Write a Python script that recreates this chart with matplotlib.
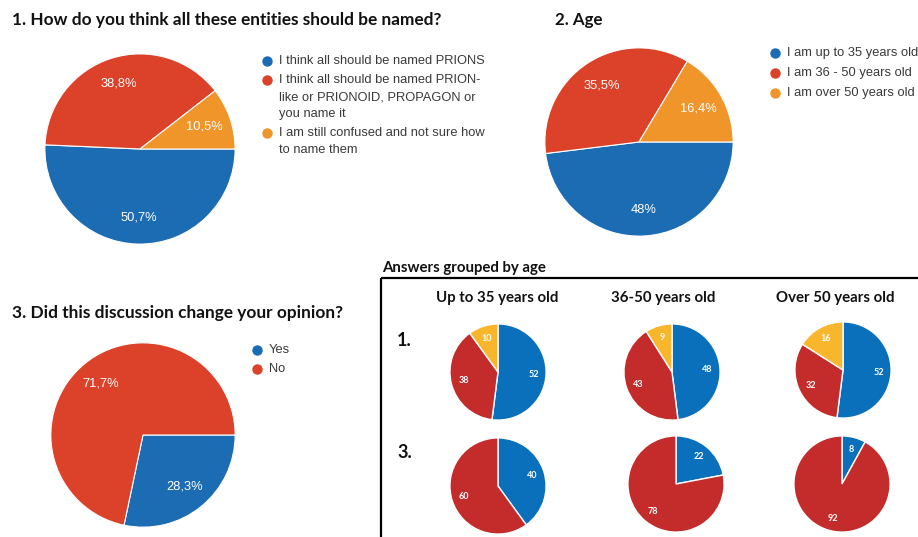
import matplotlib
matplotlib.use("Agg")
import matplotlib.pyplot as plt

W, H = 918, 537

# --- data ---
q1_labels = ["I think all should be named PRIONS",
             "I think all should be named PRION-\nlike or PRIONOID, PROPAGON or\nyou name it",
             "I am still confused and not sure how\nto name them"]
q1_values = [50.7, 38.8, 10.5]

age_labels = ["I am up to 35 years old", "I am 36 - 50 years old", "I am over 50 years old"]
age_values = [48.0, 35.5, 16.4]

q3_labels = ["Yes", "No"]
q3_values = [28.3, 71.7]

groups = ["Up to 35 years old", "36-50 years old", "Over 50 years old"]
q1_by_age = [[52, 38, 10], [48, 43, 9], [52, 32, 16]]
q3_by_age = [[40, 60], [22, 78], [8, 92]]

big_colors = ["#1c6cb4", "#dc4229", "#f0952a"]
small_colors = ["#0a70bb", "#c42b2b", "#f7b62c"]

title_font = "Lato"
legend_font = "Liberation Sans"


def pct_text(v):
    s = f"{v:.1f}"
    if s.endswith(".0"):
        s = s[:-2]
    return s.replace(".", ",") + "%"


fig = plt.figure(figsize=(W / 100, H / 100), dpi=100)
bg = fig.add_axes([0, 0, 1, 1])
bg.set_xlim(0, W)
bg.set_ylim(H, 0)
bg.axis("off")


def pie_axes(cx, cy, r):
    pad = 2
    ax = fig.add_axes([(cx - r - pad) / W, 1 - (cy + r + pad) / H,
                       2 * (r + pad) / W, 2 * (r + pad) / H])
    ax.axis("off")
    return ax


def big_pie(cx, cy, r, values, colors):
    ax = pie_axes(cx, cy, r)
    ax.pie(values, colors=colors, startangle=0, counterclock=False,
           labels=[pct_text(v) for v in values], labeldistance=0.72,
           textprops=dict(color="white", fontsize=9.3, family=legend_font,
                          ha="center", va="center"),
           wedgeprops=dict(edgecolor="white", linewidth=0.8))
    ax.set_xlim(-1.02, 1.02)
    ax.set_ylim(-1.02, 1.02)


def small_pie(cx, cy, r, values, colors):
    ax = pie_axes(cx, cy, r)
    ax.pie(values, colors=colors, startangle=90, counterclock=False,
           labels=[str(v) for v in values], labeldistance=0.74,
           textprops=dict(color="white", fontsize=6.5, family=title_font,
                          fontweight="bold", ha="center", va="center"),
           wedgeprops=dict(edgecolor="white", linewidth=1.0))
    ax.set_xlim(-1.04, 1.04)
    ax.set_ylim(-1.04, 1.04)


def legend(x, y0, labels, colors, step, line_h):
    y = y0
    for lab, c in zip(labels, colors):
        bg.plot(x, y, "o", color=c, markersize=7.5, markeredgewidth=0)
        for k, line in enumerate(lab.split("\n")):
            bg.text(x + 12, y + k * line_h, line, fontsize=9.3, family=legend_font,
                    color="#3a3a3a", va="center", ha="left")
        y += step + line_h * lab.count("\n")


def bold(x, y, s, size, **kw):
    bg.text(x, y, s, fontsize=size, fontweight="bold", family=title_font,
            va="center", color="#111111", **kw)


# titles
bold(12, 20, "1. How do you think all these entities should be named?", 12.4)
bold(555, 20, "2. Age", 12.2)
bold(12, 313, "3. Did this discussion change your opinion?", 12.4)
bold(382, 268, "Answers grouped by age", 10.8)

# big pies
big_pie(140, 149, 95, q1_values, big_colors)
big_pie(639, 142, 94, age_values, big_colors)
big_pie(143, 435, 92, q3_values, big_colors[:2])

legend(267, 61, q1_labels, big_colors, 19, 17)
legend(775, 53, age_labels, big_colors, 20, 17)
legend(257, 350, q3_labels, big_colors[:2], 19, 17)

# grouped box
bg.plot([381, W], [278, 278], color="black", linewidth=1.6, solid_capstyle="butt")
bg.plot([381, 381], [278, H], color="black", linewidth=1.6, solid_capstyle="butt")

col_x = [497, 663, 835]
for x, g in zip(col_x, groups):
    bold(x, 298, g, 10.8, ha="center")
bold(397, 340, "1.", 13)
bold(397, 452, "3.", 13)

row1_y = [372, 372, 370]
row2_y = [486, 484, 484]
row1_x = [498, 672, 843]
row2_x = [498, 676, 842]
for i in range(3):
    small_pie(row1_x[i], row1_y[i], 48, q1_by_age[i], small_colors)
    small_pie(row2_x[i], row2_y[i], 48, q3_by_age[i], small_colors[:2])

fig.savefig("out.png", dpi=100)
